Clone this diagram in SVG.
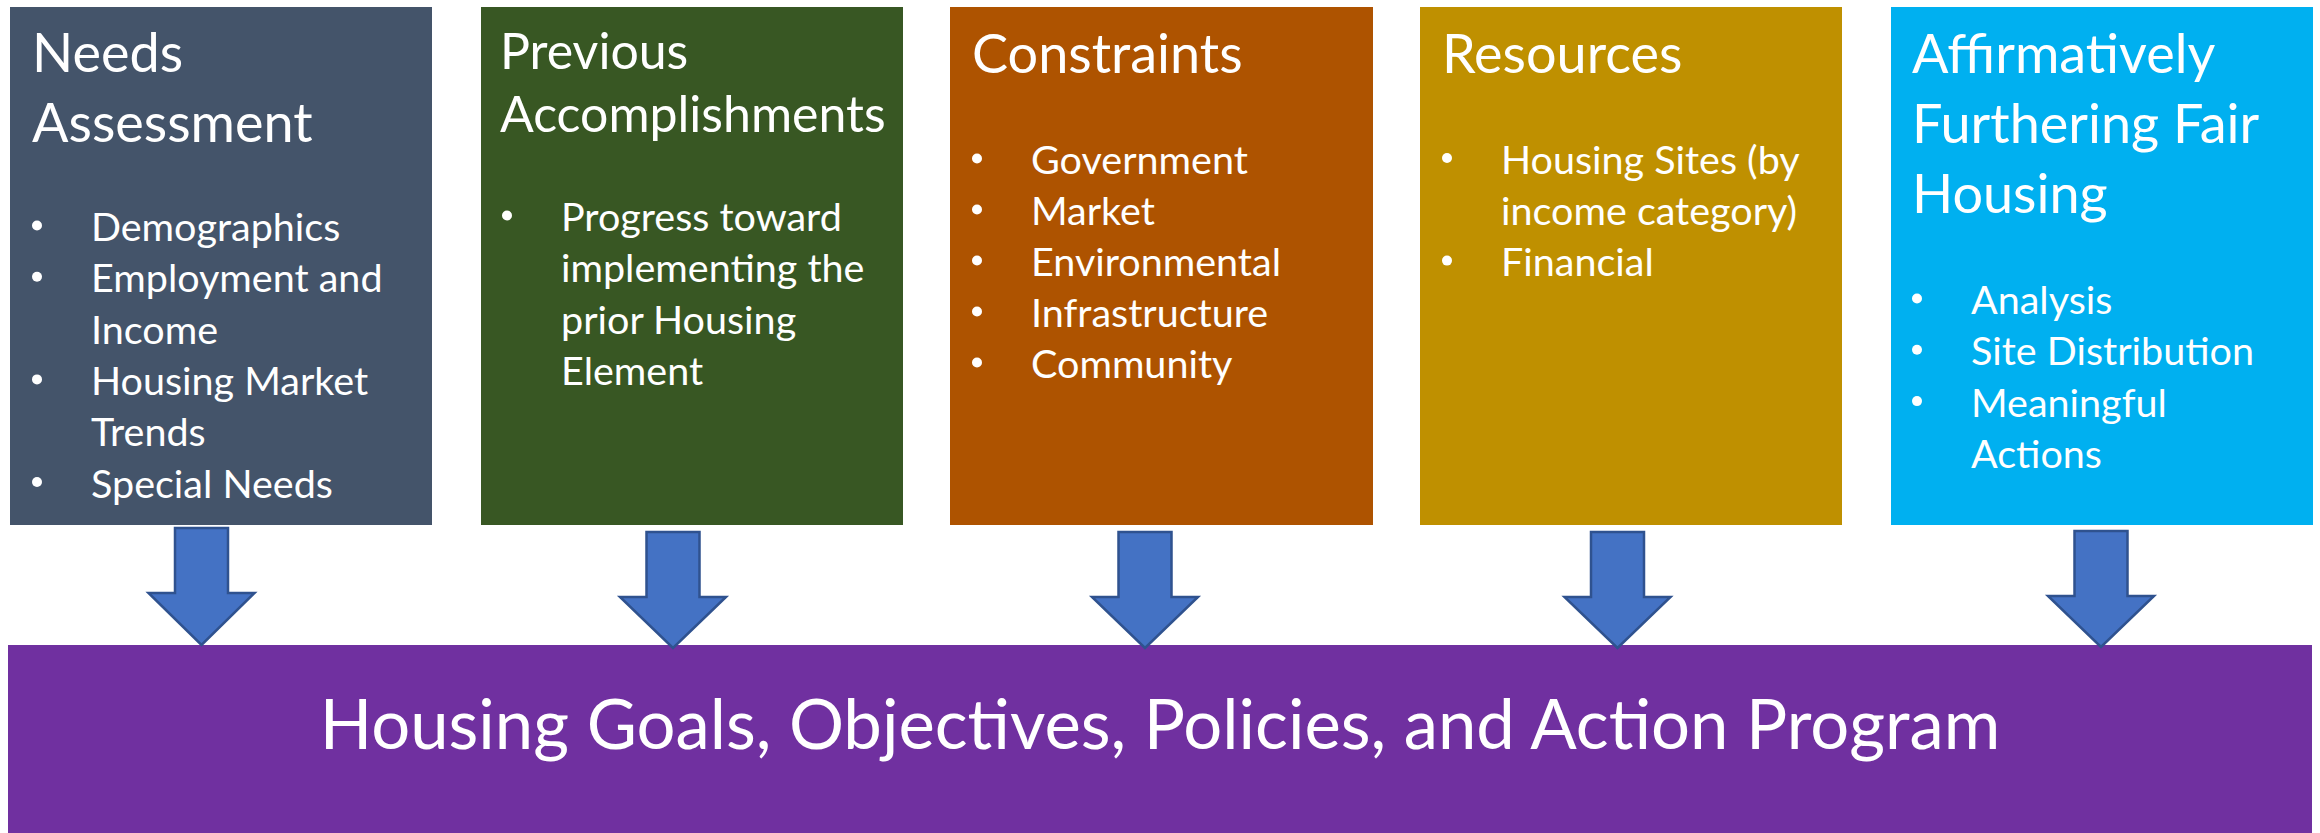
<svg xmlns="http://www.w3.org/2000/svg" width="2320" height="833" viewBox="0 0 2320 833">
<style>
  .t { font-family: Lato, "Liberation Sans", sans-serif; fill: #ffffff; }
  .title { font-size: 54px; }
  .title2 { font-size: 50px; }
  .body { font-size: 39.5px; }
  .main { font-size: 68.8px; }
  .dot { fill: #ffffff; }
  .arrow { fill: #4472C4; stroke: #2F528F; stroke-width: 2.5; stroke-linejoin: miter; }
</style>
<rect width="2320" height="833" fill="#ffffff"/>

<g id="needs-assessment">
  <rect x="10" y="7" width="422" height="518" fill="#44546A"/>
  <text class="t title" x="32" y="72">Needs</text>
  <text class="t title" x="32" y="142">Assessment</text>
  <circle class="dot" cx="37" cy="225.5" r="5"/>
  <text class="t body" x="91" y="241">Demographics</text>
  <circle class="dot" cx="37" cy="276.8" r="5"/>
  <text class="t body" x="91" y="292.3">Employment and</text>
  <text class="t body" x="91" y="343.6">Income</text>
  <circle class="dot" cx="37" cy="379.4" r="5"/>
  <text class="t body" x="91" y="394.9">Housing Market</text>
  <text class="t body" x="91" y="446.2">Trends</text>
  <circle class="dot" cx="37" cy="482" r="5"/>
  <text class="t body" x="91" y="497.5">Special Needs</text>
</g>

<g id="previous-accomplishments">
  <rect x="481" y="7" width="422" height="518" fill="#385723"/>
  <text class="t title2" x="500" y="69">Previous</text>
  <text class="t title2" x="500" y="132">Accomplishments</text>
  <circle class="dot" cx="507" cy="215.5" r="5"/>
  <text class="t body" x="561" y="231">Progress toward</text>
  <text class="t body" x="561" y="282.3">implementing the</text>
  <text class="t body" x="561" y="333.6">prior Housing</text>
  <text class="t body" x="561" y="384.9">Element</text>
</g>

<g id="constraints">
  <rect x="950" y="7" width="423" height="518" fill="#AE5300"/>
  <text class="t title" x="972" y="73">Constraints</text>
  <circle class="dot" cx="977" cy="158.5" r="5"/>
  <text class="t body" x="1031" y="174">Government</text>
  <circle class="dot" cx="977" cy="209.5" r="5"/>
  <text class="t body" x="1031" y="225">Market</text>
  <circle class="dot" cx="977" cy="260.5" r="5"/>
  <text class="t body" x="1031" y="276">Environmental</text>
  <circle class="dot" cx="977" cy="311.5" r="5"/>
  <text class="t body" x="1031" y="327">Infrastructure</text>
  <circle class="dot" cx="977" cy="362.5" r="5"/>
  <text class="t body" x="1031" y="378">Community</text>
</g>

<g id="resources">
  <rect x="1420" y="7" width="422" height="518" fill="#BF9000"/>
  <text class="t title" x="1442" y="73">Resources</text>
  <circle class="dot" cx="1447" cy="158" r="5"/>
  <text class="t body" x="1501" y="173.5">Housing Sites (by</text>
  <text class="t body" x="1501" y="224.8">income category)</text>
  <circle class="dot" cx="1447" cy="260.6" r="5"/>
  <text class="t body" x="1501" y="276.1">Financial</text>
</g>

<g id="affh">
  <rect x="1891" y="7" width="422" height="518" fill="#00B0F0"/>
  <text class="t title" x="1912" y="73">Affirmatively</text>
  <text class="t title" x="1912" y="143">Furthering Fair</text>
  <text class="t title" x="1912" y="213">Housing</text>
  <circle class="dot" cx="1917" cy="298.5" r="5"/>
  <text class="t body" x="1971" y="314">Analysis</text>
  <circle class="dot" cx="1917" cy="349.8" r="5"/>
  <text class="t body" x="1971" y="365.3">Site Distribution</text>
  <circle class="dot" cx="1917" cy="401.1" r="5"/>
  <text class="t body" x="1971" y="416.6">Meaningful</text>
  <text class="t body" x="1971" y="467.9">Actions</text>
</g>

<g id="housing-goals">
  <rect x="8" y="645" width="2304" height="188" fill="#7030A0"/>
  <text class="t main" x="1160" y="749" text-anchor="middle">Housing Goals, Objectives, Policies, and Action Program</text>
</g>

<g id="connectors">
  <path class="arrow" d="M175 528 H228 V593 H254.5 L201.5 645 L148.5 593 H175 Z"/>
  <path class="arrow" d="M646.5 532 H699.5 V597 H726 L673 648 L620 597 H646.5 Z"/>
  <path class="arrow" d="M1118.5 532 H1171.5 V597 H1198 L1145 648 L1092 597 H1118.5 Z"/>
  <path class="arrow" d="M1591 532 H1644 V597 H1670.5 L1617.5 648 L1564.5 597 H1591 Z"/>
  <path class="arrow" d="M2074.5 531 H2127.5 V596 H2154 L2101 647 L2048 596 H2074.5 Z"/>
</g>
</svg>
